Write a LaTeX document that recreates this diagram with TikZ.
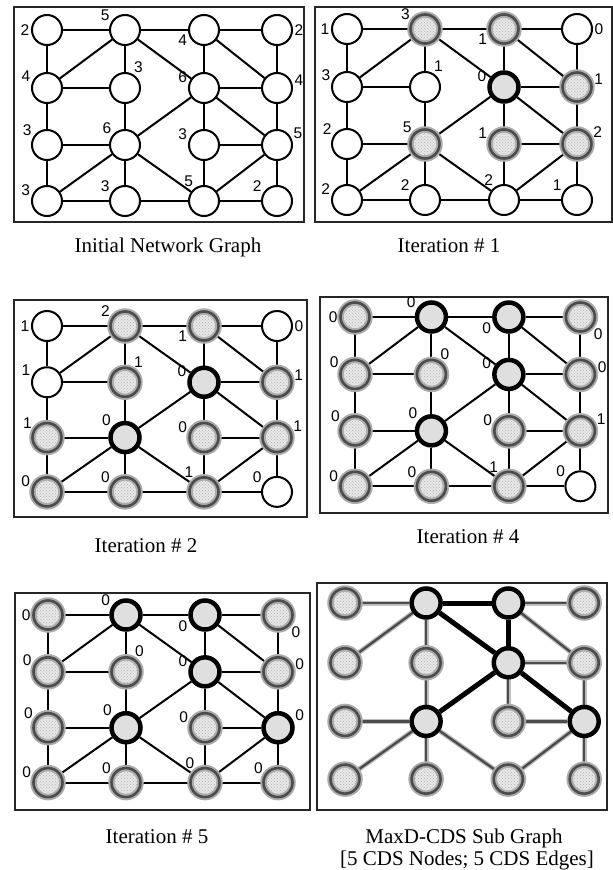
\documentclass[tikz,border=0pt]{standalone}
\usepackage{fontspec}
\setmainfont{Liberation Serif}
\newfontfamily\lblfont{Liberation Sans}
\usetikzlibrary{positioning, backgrounds, patterns}

% one 4x4 grid of nodes: #1 name, #2,#3 first node, #4,#5 spacing factors,
% #6 angle of the top right label, #7 states/labels row by row
\newcommand{\gridpanel}[7]{%
  \foreach \st/\lb [count=\i from 0] in {#7} {
    \pgfmathtruncatemacro{\cc}{mod(\i,4)+1}
    \pgfmathtruncatemacro{\rr}{div(\i,4)+1}
    \pgfmathsetmacro{\xx}{#2+#4*{0,78,157,230}[\cc-1]}
    \pgfmathsetmacro{\yy}{#3+#5*{0,58,115,171}[\rr-1]}
    \pgfmathsetmacro{\aa}{{180,150,195,#6,160,60,165,5,150,140,165,20,165,150,127,150}[\i]}
    \node[\st, label={[numlbl]\aa:\lb}] (#1-\cc\rr) at (\xx,\yy) {};
  }
}
\newcommand{\gridlinks}[1]{%
  \begin{scope}[on background layer]
    \foreach \u/\v in {11/21,21/31,31/41,11/12,21/12,21/22,21/32,31/32,31/42,41/42,
      12/22,32/42,12/13,22/23,32/23,32/33,32/43,42/43,13/23,33/43,
      13/14,23/14,23/24,23/34,33/34,43/34,43/44,14/24,24/34,34/44}
      \draw[link] (#1-\u) -- (#1-\v);
  \end{scope}
}

\begin{document}
\begin{tikzpicture}[
  x=1pt, y=-1pt,
  freenode/.style={circle, minimum size=30pt, inner sep=0pt, draw=black, line width=2pt, fill=white},
  covnode/.style={circle, minimum size=29pt, inner sep=0pt, draw=black!70, line width=2.6pt,
    pattern=crosshatch dots, pattern color=gray!60,
    preaction={draw=gray!65, line width=6.5pt, fill=gray!18}},
  cdsnode/.style={circle, minimum size=29pt, inner sep=0pt, draw=black, line width=4.5pt, fill=gray!25},
  numlbl/.style={font=\lblfont\fontsize{15.5}{16}\selectfont, inner sep=0.5pt, label distance=1pt},
  link/.style={line width=2pt},
  sublink/.style={draw=black!70, line width=2.4pt, preaction={draw=gray!50, line width=5pt}},
  cdslink/.style={line width=5pt},
  panelbox/.style={draw=black!85, line width=1.4pt},
  captext/.style={font=\fontsize{21}{25}\selectfont, anchor=base, inner sep=0pt}
]
\useasboundingbox (0,0) rectangle (613,870);

% frames
\draw[panelbox] (14,7) rectangle (304,222);
\draw[panelbox] (315,7) rectangle (612,222);
\draw[panelbox] (14,300) rectangle (307,517);
\draw[panelbox] (320,297) rectangle (608,513);
\draw[panelbox] (15,593) rectangle (310,810);
\draw[panelbox] (317,583) rectangle (607,810);

% initial graph
\gridpanel{init}{47}{30}{1}{1}{0}{freenode/2,freenode/5,freenode/4,freenode/2,
  freenode/4,freenode/3,freenode/6,freenode/4,
  freenode/3,freenode/6,freenode/3,freenode/5,
  freenode/3,freenode/3,freenode/5,freenode/2}
\gridlinks{init}

% iteration 1
\gridpanel{itera}{347}{29}{1}{1}{0}{freenode/1,covnode/3,covnode/1,freenode/0,
  freenode/3,freenode/1,cdsnode/0,covnode/1,
  freenode/2,covnode/5,covnode/1,covnode/2,
  freenode/2,freenode/2,freenode/2,freenode/1}
\gridlinks{itera}

% iteration 2
\gridpanel{iterb}{47}{326}{1}{0.97}{0}{freenode/1,covnode/2,covnode/1,freenode/0,
  freenode/1,covnode/1,cdsnode/0,covnode/1,
  covnode/1,cdsnode/0,covnode/0,covnode/1,
  covnode/0,covnode/0,covnode/1,freenode/0}
\gridlinks{iterb}

% iteration 4
\gridpanel{iterd}{355}{317}{0.98}{0.99}{-40}{covnode/0,cdsnode/0,cdsnode/0,covnode/0,
  covnode/0,covnode/0,cdsnode/0,covnode/0,
  covnode/0,cdsnode/0,covnode/0,covnode/1,
  covnode/0,covnode/0,covnode/1,freenode/0}
\gridlinks{iterd}

% iteration 5
\gridpanel{itere}{48}{615}{1}{0.98}{-40}{covnode/0,cdsnode/0,cdsnode/0,covnode/0,
  covnode/0,covnode/0,cdsnode/0,covnode/0,
  covnode/0,cdsnode/0,covnode/0,cdsnode/0,
  covnode/0,covnode/0,covnode/0,covnode/0}
\gridlinks{itere}

% MaxD-CDS sub graph
\gridpanel{cds}{345}{603}{1.04}{1.03}{0}{covnode/,cdsnode/,cdsnode/,covnode/,
  covnode/,covnode/,cdsnode/,covnode/,
  covnode/,cdsnode/,covnode/,cdsnode/,
  covnode/,covnode/,covnode/,covnode/}
\begin{scope}[on background layer]
  \foreach \u/\v in {11/21,31/41,21/12,21/22,31/42,32/42,22/23,32/33,13/23,33/43,
    23/14,23/24,23/34,43/34,42/43,43/44}
    \draw[sublink] (cds-\u) -- (cds-\v);
  \foreach \u/\v in {21/31,21/32,31/32,32/23,32/43}
    \draw[cdslink] (cds-\u) -- (cds-\v);
\end{scope}

% captions
\node[captext] (capinit) at (168,252) {Initial Network Graph};
\node[captext] (capa) at (449,252) {Iteration \# 1};
\node[captext] (capb) at (146,552) {Iteration \# 2};
\node[captext] (capd) at (468,543) {Iteration \# 4};
\node[captext] (cape) at (157,843) {Iteration \# 5};
\node[captext] (capcds) at (464,843) {MaxD-CDS Sub Graph};
\node[captext] (capcdsb) at (467,865) {[5 CDS Nodes; 5 CDS Edges]};
\end{tikzpicture}
\end{document}
